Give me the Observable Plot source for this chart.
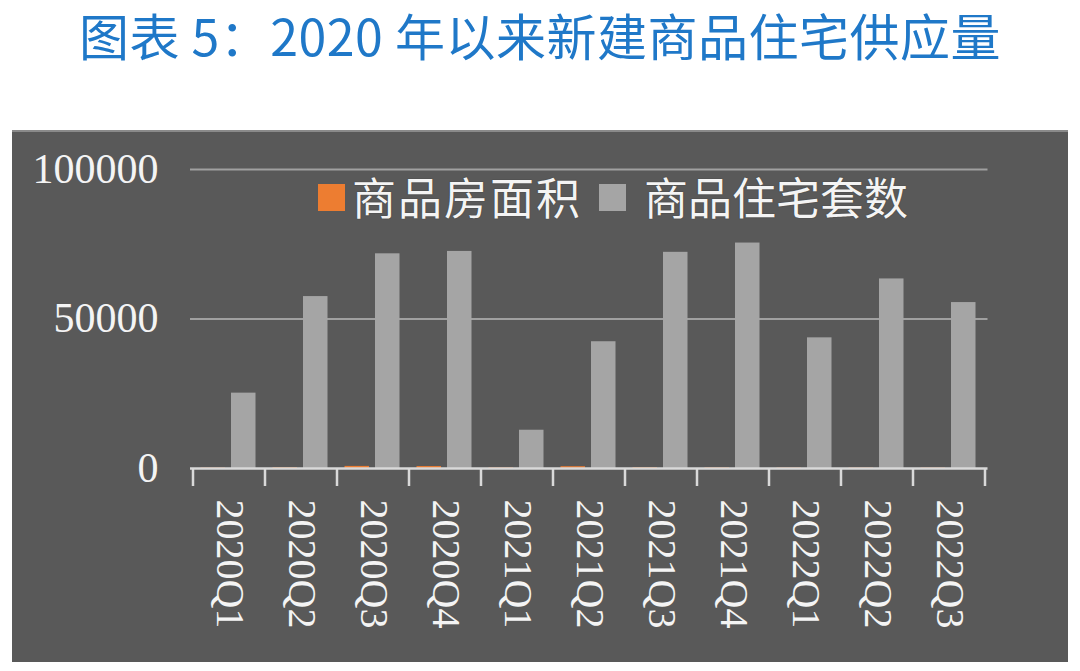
<!DOCTYPE html>
<html><head><meta charset="utf-8">
<script src="https://cdn.jsdelivr.net/npm/d3@7"></script>
<script src="https://cdn.jsdelivr.net/npm/@observablehq/plot@0.6"></script>
<style>
body{margin:0;background:#fff;width:1080px;height:671px;overflow:hidden;position:relative;}
#title{position:absolute;left:0;top:-1px;width:1080px;text-align:center;font-size:50px;line-height:70px;font-family:"Noto Sans CJK SC";color:#1f78c8;letter-spacing:0.5px;}
#panel{position:absolute;left:12px;top:130px;width:1056px;height:532px;background:#595959;border-top:2px solid #8a8a8a;box-sizing:border-box;}
#panel svg{position:absolute;left:0;top:-2px;overflow:visible;}
.sw{position:absolute;width:27px;height:27px;}
.lt{position:absolute;font-family:"Noto Sans CJK SC";font-size:44px;line-height:50px;color:#f4f4f4;white-space:nowrap;text-shadow:0 0 1px #222;}
</style></head>
<body>
<div id="title">图表 5：2020 年以来新建商品住宅供应量</div>
<div id="panel">
  <div class="sw" style="left:306px;top:52px;background:#ED7D31;"></div>
  <div class="lt" style="left:340px;top:39px;letter-spacing:2px;" id="l1"></div>
  <div class="sw" style="left:587px;top:52px;background:#A5A5A5;"></div>
  <div class="lt" style="left:632px;top:39px;" id="l2"></div>
</div>
<script>
const quarters = ["2020Q1","2020Q2","2020Q3","2020Q4","2021Q1","2021Q2","2021Q3","2021Q4","2022Q1","2022Q2","2022Q3"];
const seriesNames = ["商品房面积","商品住宅套数"];
const areaValues = [150, 250, 700, 650, 200, 600, 250, 200, 150, 150, 150];
const unitValues = [25200, 57500, 71800, 72600, 12800, 42400, 72300, 75400, 43700, 63400, 55500];
const yTicks = [0, 50000, 100000];
const colors = ["#ED7D31", "#A5A5A5"];

document.getElementById("l1").textContent = seriesNames[0];
document.getElementById("l2").textContent = seriesNames[1];

const areaData = quarters.map((q, i) => ({q, v: areaValues[i]}));
const unitData = quarters.map((q, i) => ({q, v: unitValues[i]}));

const boundaryTicks = (index, scales, values, dims) => {
  const g = d3.create("svg:g");
  const bw = scales.x(quarters[1]) - scales.x(quarters[0]);
  const y0 = scales.y(0);
  const xs = quarters.map(q => scales.x(q)).concat([scales.x(quarters[quarters.length - 1]) + bw]);
  for (const x of xs) {
    g.append("line").attr("x1", x).attr("x2", x).attr("y1", y0).attr("y2", y0 + 18)
      .attr("stroke", "#d9d9d9").attr("stroke-width", 2.5);
  }
  return g.node();
};

const chart = Plot.plot({
  width: 1056,
  height: 532,
  marginLeft: 178,
  marginRight: 80.5,
  marginTop: 39,
  marginBottom: 194,
  style: {background: "transparent", color: "#f4f4f4", fontFamily: "Liberation Serif"},
  x: {type: "band", domain: quarters, padding: 0},
  y: {domain: [0, 100000]},
  marks: [
    Plot.gridY(yTicks.slice(1), {stroke: "#a0a0a0", strokeOpacity: 1, strokeWidth: 2}),
    Plot.barY(areaData, {x: "q", y: "v", fill: colors[0], insetLeft: 7.5, insetRight: 40}),
    Plot.barY(unitData, {x: "q", y: "v", fill: colors[1], insetLeft: 38, insetRight: 9.5}),
    Plot.ruleY([0], {stroke: "#d9d9d9", strokeWidth: 2.5}),
    boundaryTicks,
    Plot.axisY(yTicks, {tickSize: 0, tickPadding: 32, fontSize: 42, tickFormat: d3.format("d"), fill: "#f4f4f4", label: null}),
    Plot.axisX({tickSize: 0, tickPadding: 31, tickRotate: 90, fontSize: 40, fill: "#f4f4f4", label: null})
  ]
});
document.getElementById("panel").appendChild(chart);
</script>
</body></html>
